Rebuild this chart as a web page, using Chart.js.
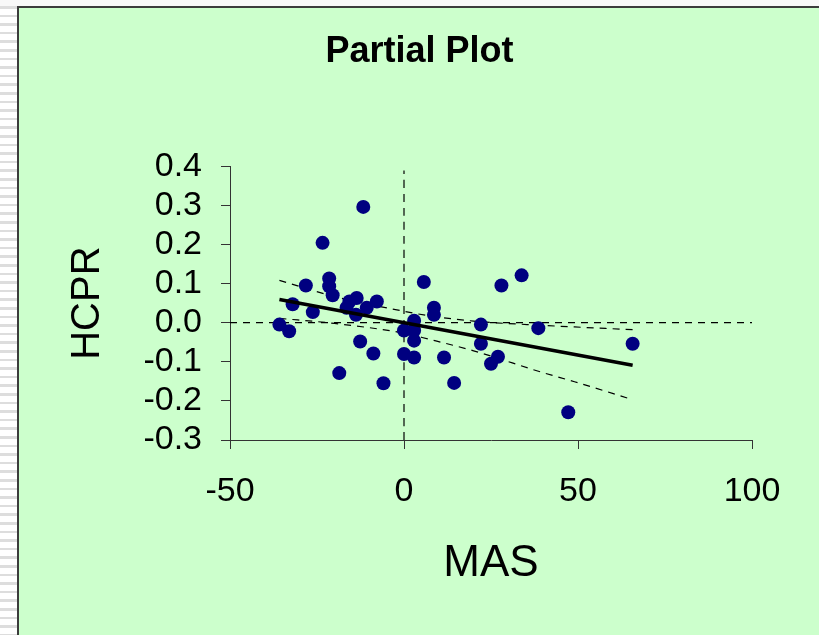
<!DOCTYPE html>
<html>
<head>
<meta charset="utf-8">
<script src="https://cdn.jsdelivr.net/npm/chart.js@4.4.0/dist/chart.umd.min.js"></script>
<style>
  body { margin: 0; width: 819px; height: 635px; overflow: hidden; position: relative;
    background: repeating-linear-gradient(to bottom, #ffffff 0px, #ffffff 6px, #dddddd 6px, #dddddd 8.6px); }
  .panel { position: absolute; left: 17px; top: 6px; right: 0; bottom: 0;
    background: #ccffcc; border-left: 2px solid #3c3c3c; border-top: 2px solid #3c3c3c; }
  .topband { position: absolute; left: 0; top: 0; right: 0; height: 6px; background: #f8f8f8; }
  #chart { position: absolute; left: 20px; top: 9px; }
</style>
</head>
<body>
<div class="topband"></div>
<div class="panel"></div>
<canvas id="chart" width="799" height="626"></canvas>
<script>
// MAS (x) and HCPR (y) partial residuals
const masValues = [-35.8, -33.0, -32.0, -28.2, -26.2, -23.4, -21.5, -21.5, -20.5, -18.6,
  -16.5, -15.7, -13.6, -13.8, -12.6, -11.7, -10.7, -8.8, -7.8, -5.9,
  0.0, 0.0, 2.9, 2.9, 2.9, 2.9, 5.7, 8.6, 8.6, 11.5,
  14.4, 22.1, 22.1, 25.0, 27.0, 28.0, 33.8, 38.6, 47.2, 65.7];
const hcprValues = [-0.005, -0.022, 0.047, 0.095, 0.027, 0.204, 0.113, 0.093, 0.070, -0.129,
  0.038, 0.054, 0.063, 0.020, -0.048, 0.296, 0.038, -0.079, 0.054, -0.155,
  -0.020, -0.080, 0.005, -0.020, -0.046, -0.089, 0.104, 0.038, 0.020, -0.089,
  -0.154, -0.005, -0.054, -0.105, -0.087, 0.095, 0.121, -0.014, -0.229, -0.054];

// fitted line and its dashed bands
const fitX = [-35.8, 65.7];
const fitY = [0.059, -0.109];
const bandX = [-35.8, -20, 0, 7, 20, 40, 49, 65.7];
const upperBand = [0.108, 0.067, 0.029, 0.018, 0.004, -0.007, -0.011, -0.018];
const lowerBand = [0.011, -0.002, -0.027, -0.042, -0.072, -0.128, -0.151, -0.197];

// zero reference lines
const hLineX = [-50, 100];
const hLineY = [0, 0];
const vLineX = [0, 0];
const vLineY = [-0.3, 0.389];

const xTicks = [-50, 0, 50, 100];
const yTicks = [-0.3, -0.2, -0.1, 0, 0.1, 0.2, 0.3, 0.4];

const toPoints = (xs, ys) => xs.map((x, i) => ({ x: x, y: ys[i] }));
const fontFamily = "'Liberation Sans', Arial, sans-serif";

const dashed = (xs, ys, dash) => ({
  data: toPoints(xs, ys),
  showLine: true,
  borderColor: '#000000',
  borderWidth: 1.2,
  borderDash: dash,
  pointRadius: 0,
  cubicInterpolationMode: 'monotone'
});

new Chart(document.getElementById('chart'), {
  type: 'scatter',
  data: {
    datasets: [
      {
        data: toPoints(fitX, fitY),
        showLine: true,
        borderColor: '#000000',
        borderWidth: 3.5,
        pointRadius: 0
      },
      {
        data: toPoints(masValues, hcprValues),
        backgroundColor: '#000080',
        borderColor: '#000080',
        pointRadius: 7,
        borderWidth: 0
      },
      dashed(bandX, upperBand, [7, 6]),
      dashed(bandX, lowerBand, [7, 6]),
      dashed(hLineX, hLineY, [7, 6]),
      dashed(vLineX, vLineY, [8, 6])
    ]
  },
  options: {
    responsive: false,
    animation: false,
    devicePixelRatio: 1,
    layout: { padding: 0 },
    plugins: {
      legend: { display: false },
      tooltip: { enabled: false },
      title: {
        display: true,
        text: 'Partial Plot',
        color: '#000000',
        font: { family: fontFamily, size: 36, weight: 'bold' },
        padding: { top: 21, bottom: 93 }
      }
    },
    scales: {
      x: {
        type: 'linear',
        min: -50,
        max: 100,
        afterBuildTicks: (scale) => { scale.ticks = xTicks.map(v => ({ value: v })); },
        afterFit: (scale) => { scale.height = 195; },
        grid: { drawOnChartArea: false, drawTicks: true, tickLength: 9, color: '#333333' },
        border: { color: '#333333', width: 1 },
        ticks: { color: '#000000', font: { family: fontFamily, size: 34 }, padding: 22,
          maxRotation: 0, autoSkip: false },
        title: { display: true, text: 'MAS', color: '#000000',
          font: { family: fontFamily, size: 44 }, padding: { top: 0, bottom: 45 } }
      },
      y: {
        type: 'linear',
        min: -0.3,
        max: 0.4,
        afterBuildTicks: (scale) => { scale.ticks = yTicks.map(v => ({ value: v })); },
        afterFit: (scale) => { scale.width = 210; },
        grid: { drawOnChartArea: false, drawTicks: true, tickLength: 9, color: '#333333' },
        border: { color: '#333333', width: 1 },
        ticks: { color: '#000000', font: { family: fontFamily, size: 34 }, padding: 19,
          autoSkip: false, callback: (v) => Number(v).toFixed(1) },
        title: { display: true, text: 'HCPR', color: '#000000',
          font: { family: fontFamily, size: 40 }, padding: { top: 44, bottom: 0 } }
      },
      yRight: {
        position: 'right',
        display: true,
        grid: { display: false },
        border: { display: false },
        ticks: { display: false },
        afterFit: (scale) => { scale.width = 67; }
      }
    }
  }
});
</script>
</body>
</html>
